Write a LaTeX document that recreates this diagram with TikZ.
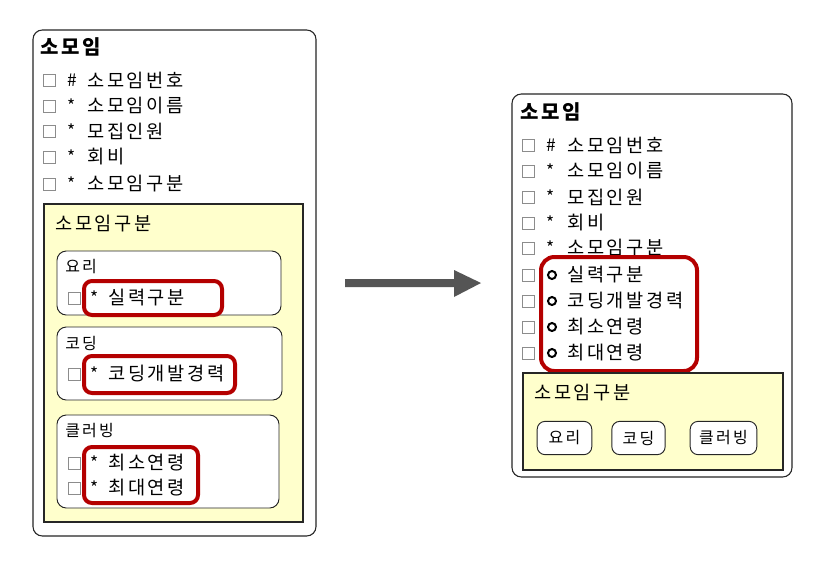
\documentclass[tikz,border=0pt]{standalone}
\usepackage{fontspec}
\setmainfont{Noto Sans CJK KR}[LetterSpace=14]
\definecolor{ylw}{HTML}{FFFFCC}
\definecolor{hl}{HTML}{B40000}
\definecolor{arr}{HTML}{555555}
\begin{document}
\begin{tikzpicture}[x=0.75pt,y=-0.75pt,
  frame/.style={draw=black!85, line width=0.8pt, rounded corners=7pt, fill=white},
  ybox/.style={draw=black!85, line width=0.8pt, fill=ylw},
  sub/.style={draw=black!85, line width=0.7pt, rounded corners=7pt, fill=white},
  hlbox/.style={draw=hl, line width=3pt, rounded corners=6pt},
  chk/.style={draw=black!45, line width=0.6pt, fill=white, minimum size=9pt, inner sep=0pt},
  txt/.style={anchor=west, inner sep=0pt, font=\fontsize{14}{16}\selectfont},
  sm/.style={anchor=west, inner sep=0pt, font=\fontsize{12}{14}\selectfont},
  ttl/.style={anchor=west, inner sep=0pt, font=\bfseries\fontsize{15}{18}\selectfont},
  mk/.style={inner sep=0pt, font=\fontsize{13}{15}\selectfont},
  ring/.style={circle, draw=black, line width=1.5pt, minimum size=6pt, inner sep=0pt},
  tag/.style={draw=black!85, line width=0.7pt, rounded corners=6pt, fill=white, inner sep=0pt, font=\fontsize{12}{14}\selectfont}
]
\useasboundingbox[fill=white] (0,0) rectangle (819,565);

% ---------- left ----------
\draw[frame] (33,30) rectangle (316,536);
\node[ttl] (lt) at (40,47) {소모임};
\foreach \y/\m/\t [count=\i] in {80/\#/소모임번호,106/*/소모임이름,131/*/모집인원,157/*/회비,184/*/소모임구분}{
  \node[chk] (lc\i) at (49,\y) {};
  \node[mk] (lm\i) at (72,\y) {\m};
  \node[txt] (lx\i) at (87,\y) {\t};
}
\draw[ybox] (44,204) rectangle (303,522);
\node[txt] (lyt) at (55,224) {소모임구분};

\draw[sub] (57,251) rectangle (281,315);
\node[sm] (l1) at (65,267) {요리};
\node[chk] (l1c) at (74,298) {};
\node[mk] (l1m) at (95,298) {*};
\node[txt] (l1x) at (108,298) {실력구분};
\draw[hlbox] (84,281) rectangle (222,315);

\draw[sub] (57,327) rectangle (282,400);
\node[sm] (l2) at (65,343) {코딩};
\node[chk] (l2c) at (74,374) {};
\node[mk] (l2m) at (95,374) {*};
\node[txt] (l2x) at (108,374) {코딩개발경력};
\draw[hlbox] (84,356) rectangle (235,393);

\draw[sub] (57,415) rectangle (279,508);
\node[sm] (l3) at (65,431) {클러빙};
\node[chk] (l3c) at (74,463) {};
\node[mk] (l3m) at (95,463) {*};
\node[txt] (l3x) at (108,463) {최소연령};
\node[chk] (l3d) at (74,488) {};
\node[mk] (l3n) at (95,488) {*};
\node[txt] (l3y) at (108,488) {최대연령};
\draw[hlbox] (84,447) rectangle (198,503);

% ---------- arrow ----------
\fill[arr] (345,279) -- (454,279) -- (454,270) -- (481,283) -- (454,297) -- (454,287) -- (345,287) -- cycle;

% ---------- right ----------
\draw[frame] (512,94) rectangle (792,477);
\node[ttl] (rt) at (520,112) {소모임};
\foreach \y/\m/\t [count=\i] in {145/\#/소모임번호,171/*/소모임이름,197/*/모집인원,223/*/회비,248/*/소모임구분}{
  \node[chk] (rc\i) at (528,\y) {};
  \node[mk] (rm\i) at (551,\y) {\m};
  \node[txt] (rx\i) at (567,\y) {\t};
}
\foreach \y/\t [count=\i] in {275/실력구분,301/코딩개발경력,327/최소연령,353/최대연령}{
  \node[chk] (rd\i) at (528,\y) {};
  \node[ring] (ro\i) at (552,\y) {};
  \node[txt] (ry\i) at (567,\y) {\t};
}
\draw[hlbox, rounded corners=10pt] (541,257) rectangle (697,371);
\draw[ybox] (523,373) rectangle (783,470);
\node[txt] (ryt) at (534,393) {소모임구분};
\node[tag, minimum width=41pt, minimum height=25pt] (t1) at (564.5,438) {요리};
\node[tag, minimum width=40pt, minimum height=25pt] (t2) at (638.5,438) {코딩};
\node[tag, minimum width=50pt, minimum height=25pt] (t3) at (723.5,438) {클러빙};
\end{tikzpicture}
\end{document}
